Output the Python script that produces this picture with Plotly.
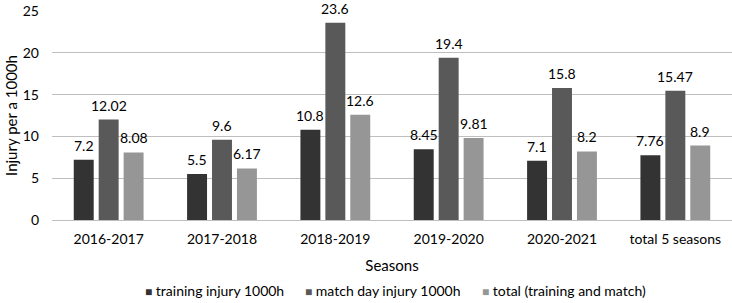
import plotly.graph_objects as go

seasons = ["2016-2017", "2017-2018", "2018-2019", "2019-2020", "2020-2021", "total 5 seasons"]
training = [7.2, 5.5, 10.8, 8.45, 7.1, 7.76]
match_day = [12.02, 9.6, 23.6, 19.4, 15.8, 15.47]
total = [8.08, 6.17, 12.6, 9.81, 8.2, 8.9]

series_names = ["training injury 1000h", "match day injury 1000h", "total (training and match)"]
series_values = [training, match_day, total]
series_colors = ["#333333", "#595959", "#969696"]

font = "Lato, Open Sans, sans-serif"
fig = go.Figure()
for name, vals, color in zip(series_names, series_values, series_colors):
    fig.add_trace(go.Bar(x=seasons, y=vals, name=name, marker_color=color,
                         marker_line_width=0, showlegend=False))

# data labels above the bars
label_xshift = [-25, 0, 25]
for vals, xs in zip(series_values, label_xshift):
    for s, v in zip(seasons, vals):
        fig.add_annotation(x=s, y=v, xref="x", yref="y", text=str(v), showarrow=False,
                           xanchor="center", yanchor="bottom", xshift=xs, yshift=4,
                           font=dict(size=14, color="#000000"))

# legend (small squares + labels), centred under the plot
legend_x = [0.134, 0.369, 0.629]
for name, color, lx in zip(series_names, series_colors, legend_x):
    fig.add_annotation(x=lx, y=-0.335, xref="paper", yref="paper", showarrow=False,
                       xanchor="left", yanchor="middle",
                       text=f"<span style='color:{color};font-size:12px'>■</span> {name}",
                       font=dict(size=14, color="#000000"))

fig.update_layout(
    width=732, height=303,
    margin=dict(l=52, r=0, t=11, b=83, autoexpand=False),
    paper_bgcolor="white", plot_bgcolor="white",
    font=dict(family=font, size=14, color="#000000"),
    barmode="group", bargap=0.34, bargroupgap=0.2,
    showlegend=False,
    xaxis=dict(title=dict(text="Seasons", font=dict(size=15), standoff=14),
               automargin=False, ticklabelstandoff=9,
               showgrid=False, showline=False, ticks="", tickfont=dict(size=14)),
    yaxis=dict(title=dict(text="Injury per a 1000h", font=dict(size=15), standoff=1),
               automargin=False, ticklabelstandoff=12,
               range=[0, 25], dtick=5, showgrid=True, gridcolor="#bfbfbf", gridwidth=1,
               zeroline=True, zerolinecolor="#bfbfbf", zerolinewidth=1,
               showline=False, ticks="", tickfont=dict(size=14)),
)

fig.write_html("out.html", config={"displayModeBar": False},
               post_script="document.body.style.margin='0px';document.body.style.overflow='hidden';")
